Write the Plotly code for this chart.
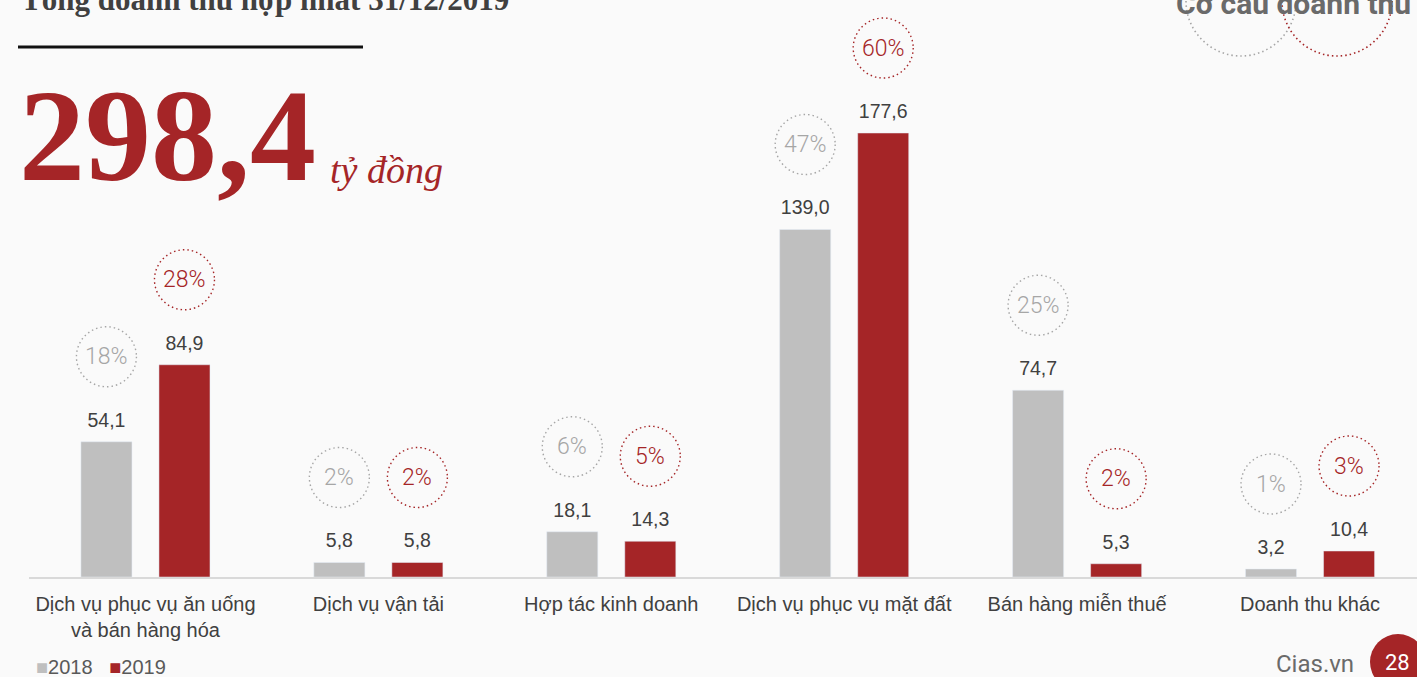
import plotly.graph_objects as go

# data
categories = ["Dịch vụ phục vụ ăn uống<br>và bán hàng hóa", "Dịch vụ vận tải", "Hợp tác kinh doanh",
              "Dịch vụ phục vụ mặt đất", "Bán hàng miễn thuế", "Doanh thu khác"]
rev_2018 = [54.1, 5.8, 18.1, 139.0, 74.7, 3.2]
rev_2019 = [84.9, 5.8, 14.3, 177.6, 5.3, 10.4]
share_2018 = [18, 2, 6, 47, 25, 1]
share_2019 = [28, 2, 5, 60, 2, 3]
total = "298,4"

GRAY = "#BFBFBF"
RED = "#A52527"
BG = "#FAFAFA"

W, H = 1417, 677
idx = list(range(len(categories)))
off = 0.1675
DOT = "1.5px,3px"


def fmt(v):
    return f"{v:.1f}".replace(".", ",")


fig = go.Figure()
fig.add_trace(go.Bar(x=idx, y=rev_2018, name="2018", marker_color=GRAY, hoverinfo="skip"))
fig.add_trace(go.Bar(x=idx, y=rev_2019, name="2019", marker_color=RED, hoverinfo="skip"))

# value labels above the bars
for vals, sgn in [(rev_2018, -1), (rev_2019, 1)]:
    fig.add_trace(go.Scatter(
        x=[i + sgn * off for i in idx], y=[v + 8 for v in vals], mode="text",
        text=[fmt(v) for v in vals], textfont=dict(size=19.5, color="#404040", family="Liberation Sans"),
        showlegend=False, hoverinfo="skip", cliponaxis=False))

# dotted percentage circles
for vals, shares, sgn, col, tcol in [(rev_2018, share_2018, -1, "#A6A6A6", "#A6A6A6"),
                                     (rev_2019, share_2019, 1, RED, RED)]:
    for i, v, s in zip(idx, vals, shares):
        xc = i + sgn * off
        fig.add_shape(type="circle", xref="x", yref="y", xsizemode="pixel", ysizemode="pixel",
                      xanchor=xc, yanchor=v, x0=-30, x1=30, y0=55, y1=115,
                      line=dict(color=col, width=1.4, dash=DOT))
        fig.add_annotation(x=xc, y=v, yshift=85, text=f"{s}%", showarrow=False,
                           font=dict(size=23, color=tcol, family="Roboto", weight=300))

# header texts
fig.add_annotation(xref="paper", yref="paper", x=19 / W, y=1 - 19 / H, xanchor="left", yanchor="bottom",
                   text="<b>Tổng doanh thu hợp nhất 31/12/2019</b>", showarrow=False,
                   font=dict(size=31, color="#404040", family="Liberation Serif"))
fig.add_shape(type="line", xref="paper", yref="paper", x0=18 / W, x1=363 / W, y0=1 - 47 / H, y1=1 - 47 / H,
              line=dict(color="#111111", width=3))
fig.add_annotation(xref="paper", yref="paper", x=17 / W, y=1 - 60 / H, xanchor="left", yanchor="top",
                   text=f"<b>{total}</b>", showarrow=False,
                   font=dict(size=132, color=RED, family="Liberation Serif"))
fig.add_annotation(xref="paper", yref="paper", x=328 / W, y=1 - 193 / H, xanchor="left", yanchor="bottom",
                   text="<i>tỷ đồng</i>", showarrow=False,
                   font=dict(size=38, color=RED, family="Liberation Serif"))

fig.add_annotation(xref="paper", yref="paper", x=1413 / W, y=1 - 23 / H, xanchor="right", yanchor="bottom",
                   text="<b>Cơ cấu doanh thu</b>", showarrow=False,
                   font=dict(size=30, color="#6A6A6A", family="Roboto"))
for cx, col in [(1241, "#A6A6A6"), (1337, RED)]:
    fig.add_shape(type="circle", xref="paper", yref="paper",
                  x0=(cx - 55) / W, x1=(cx + 55) / W, y0=1 - 56 / H, y1=1 + 54 / H,
                  line=dict(color=col, width=1.6, dash=DOT))

# legend drawn as text, matching the tight slide style
fig.add_annotation(xref="paper", yref="paper", x=34 / W, y=1 - 667 / H, xanchor="left", yanchor="middle",
                   text=f"<span style='color:{GRAY}'>■</span>2018&nbsp;&nbsp;&nbsp;"
                        f"<span style='color:{RED}'>■</span>2019",
                   showarrow=False, font=dict(size=20, color="#595959", family="Liberation Sans"))

# footer
fig.add_annotation(xref="paper", yref="paper", x=1356 / W, y=1 - 664 / H, xanchor="right", yanchor="middle",
                   text="Cias.vn", showarrow=False, font=dict(size=24, color="#6A6A6A", family="Roboto"))
fig.add_shape(type="circle", xref="paper", yref="paper", x0=1370 / W, x1=1426 / W,
              y0=1 - 690 / H, y1=1 - 634 / H, fillcolor=RED, line=dict(width=0))
fig.add_annotation(xref="paper", yref="paper", x=1397 / W, y=1 - 662 / H, xanchor="center", yanchor="middle",
                   text="28", showarrow=False, font=dict(size=22, color="white", family="Roboto"))

fig.update_layout(
    width=W, height=H, margin=dict(l=0, r=0, t=0, b=0),
    paper_bgcolor=BG, plot_bgcolor=BG,
    barmode="group", bargap=0.33, bargroupgap=0.346,
    showlegend=False,
    xaxis=dict(domain=[29 / W, 1], range=[-0.5, (W - 145) / 233], tickvals=idx, ticktext=categories,
               showline=True, linecolor="#D9D9D9", linewidth=2, showgrid=False, zeroline=False,
               tickfont=dict(size=20, color="#404040", family="Liberation Sans"), ticks="",
               ticklabelstandoff=8),
    yaxis=dict(domain=[1 - 577 / H, 1], range=[0, 577 / 2.5], visible=False, showgrid=False),
)

fig.write_html("out.html", config={"displayModeBar": False},
               post_script="document.body.style.margin='0px';")
